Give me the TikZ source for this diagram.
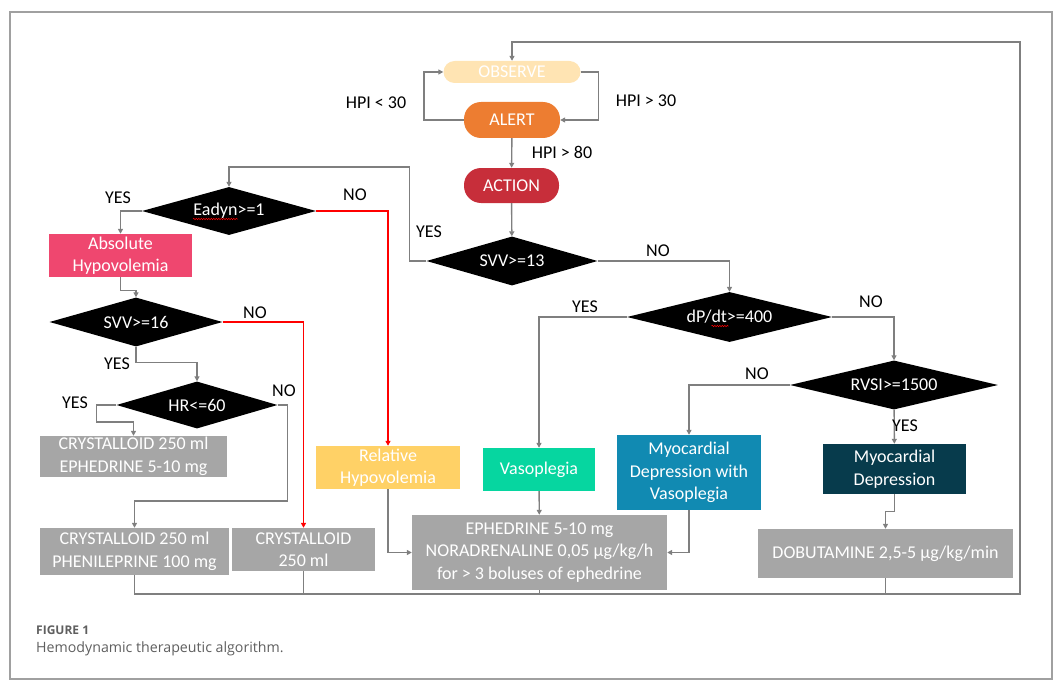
\documentclass[tikz,border=0pt]{standalone}
\usepackage{fontspec}
\setmainfont{Carlito}
\newfontfamily\capfont{Open Sans}
\usetikzlibrary{shapes.geometric,arrows.meta,decorations.pathmorphing}

\definecolor{linegray}{HTML}{7F7F7F}
\definecolor{framegray}{HTML}{A0A0A0}
\definecolor{boxgray}{HTML}{A6A6A6}
\definecolor{capgray}{HTML}{5F5F5F}
\definecolor{observefill}{HTML}{FFE4B3}
\definecolor{alertfill}{HTML}{ED7D31}
\definecolor{actionfill}{HTML}{C72E3A}
\definecolor{absfill}{HTML}{EF476F}
\definecolor{relfill}{HTML}{FFD166}
\definecolor{vasofill}{HTML}{06D6A0}
\definecolor{mdvfill}{HTML}{118AB2}
\definecolor{mdfill}{HTML}{073B4C}

\tikzset{
  state/.style={rectangle, fill=#1, text=white, inner sep=0pt},
  box/.style={rectangle, fill=#1, text=white, align=center, inner sep=0pt},
  decision/.style={diamond, aspect=4, fill=black, text=white, inner sep=0pt},
  arr/.style={draw=linegray, line width=1.4pt, -{Triangle[length=5pt,width=5pt]}},
  link/.style={draw=linegray, line width=1.4pt},
  noarr/.style={draw=red, line width=1.5pt, -{Triangle[length=5pt,width=5pt]}},
  lbl/.style={text=black, inner sep=0pt},
  spell/.style={draw=red, line width=0.5pt, decorate, decoration={snake, amplitude=0.7pt, segment length=2.5pt}}
}

\begin{document}
\begin{tikzpicture}[x=1pt,y=-1pt,font=\fontsize{18}{22.5}\selectfont]
\useasboundingbox (0,0) rectangle (1057,698);
\draw[framegray, line width=1.2pt] (10,12) rectangle (1052,679);

% monitoring states
\node[state=observefill, minimum width=137pt, minimum height=22pt, rounded corners=11pt] (observe) at (512,72) {OBSERVE};
\node[state=alertfill, minimum width=96pt, minimum height=36pt, rounded corners=17pt] (alert) at (512,120) {ALERT};
\node[state=actionfill, minimum width=95pt, minimum height=35pt, rounded corners=17pt] (action) at (511.5,185.5) {ACTION};

% decisions
\node[decision, minimum width=174pt, minimum height=48pt] (eadyn) at (229,211) {Eadyn>=1};
\node[decision, minimum width=173pt, minimum height=49pt] (svvsixteen) at (136,322) {SVV>=16};
\node[decision, minimum width=161pt, minimum height=47pt] (hr) at (197,405) {HR<=60};
\node[decision, minimum width=171pt, minimum height=49pt] (svvthirteen) at (512,261) {SVV>=13};
\node[decision, minimum width=205pt, minimum height=50pt] (dpdt) at (729.5,317) {dP/dt>=400};
\node[decision, minimum width=208pt, minimum height=49pt] (rvsi) at (894,385) {RVSI>=1500};
\draw[spell] ([shift={(-36,8)}]eadyn.center) -- ++(45,0);
\draw[spell] ([shift={(-18,9)}]dpdt.center) -- ++(17,0);

% diagnoses
\node[box=absfill, minimum width=143pt, minimum height=43pt] (absolute) at (120.5,255.5) {Absolute\\Hypovolemia};
\node[box=relfill, minimum width=144pt, minimum height=43pt] (relative) at (388,467.5) {Relative\\Hypovolemia};
\node[box=vasofill, minimum width=112pt, minimum height=43pt] (vaso) at (539,469.5) {Vasoplegia};
\node[box=mdvfill, minimum width=144pt, minimum height=75pt] (mdvaso) at (689,472.5) {Myocardial\\Depression with\\Vasoplegia};
\node[box=mdfill, minimum width=143pt, minimum height=50pt] (mydep) at (894.5,469) {Myocardial\\Depression};

% treatments
\node[box=boxgray, minimum width=187pt, minimum height=41pt] (cryeph) at (133.5,456.5) {CRYSTALLOID 250 ml\\EPHEDRINE 5-10 mg};
\node[box=boxgray, minimum width=189pt, minimum height=47pt] (cryphen) at (134.5,551.5) {CRYSTALLOID 250 ml\\PHENILEPRINE 100 mg};
\node[box=boxgray, minimum width=143pt, minimum height=43pt] (cry) at (303.5,549.5) {CRYSTALLOID\\250 ml};
\node[box=boxgray, minimum width=255pt, minimum height=75pt] (ephnor) at (539.5,552.5) {EPHEDRINE 5-10 mg\\NORADRENALINE 0,05 µg/kg/h\\for > 3 boluses of ephedrine};
\node[box=boxgray, minimum width=255pt, minimum height=49pt] (dobu) at (885.5,553.5) {DOBUTAMINE 2,5-5 µg/kg/min};

% connectors
\draw[arr] (alert.west) -- ++(-40,0) |- (observe.west);
\draw[arr] (observe.east) -- ++(18,0) |- (alert.east);
\draw[arr] (alert) -- (action);
\draw[arr] (action) -- (svvthirteen);
\draw[arr] (svvthirteen.west) -- ++(-17,0) -- ++(0,-94) -| (eadyn.north);
\draw[arr] (eadyn.west) -| (absolute.north);
\draw[noarr] (eadyn.east) -| (relative.north);
\draw[arr] (absolute.south) -- ++(0,13) -| (svvsixteen.north);
\draw[noarr] (svvsixteen.east) -| (cry.north);
\draw[arr] (svvsixteen.south) -- ++(0,16) -| (hr.north);
\draw[arr] (hr.west) -- ++(-20,0) -- ++(0,17) -| (cryeph.north);
\draw[arr] (hr.east) -- ++(10,0) -- ++(0,96) -| (cryphen.north);
\draw[arr] (relative.south) |- (ephnor.west);
\draw[arr] (svvthirteen.east) -| (dpdt.north);
\draw[arr] (dpdt.west) -| (vaso.north);
\draw[arr] (vaso) -- (ephnor);
\draw[arr] (dpdt.east) -| (rvsi.north);
\draw[arr] (rvsi.west) -| (mdvaso.north);
\draw[arr] (rvsi) -- (mydep);
\draw[arr] (mdvaso.south) |- (ephnor.east);
\draw[arr] (mydep.south) -- ++(0,17) -| (dobu.north);

% back to observe
\coordinate (back) at (1020,594);
\draw[arr] (cryphen.south) |- (back) -- ++(0,-552) -| (observe.north);
\draw[link] (cry.south) -- (cry.south |- back);
\draw[link] (ephnor.south) -- (ephnor.south |- back);
\draw[link] (dobu.south) -- (dobu.south |- back);

% labels
\node[lbl] (hpilow) at (376,103) {HPI < 30};
\node[lbl] (hpimid) at (646,101) {HPI > 30};
\node[lbl] (hpihigh) at (562,152) {HPI > 80};
\node[lbl] (eadynyes) at (118,198) {YES};
\node[lbl] (eadynno) at (355,195) {NO};
\node[lbl] (svvthirteenyes) at (429,232) {YES};
\node[lbl] (svvthirteenno) at (658,251) {NO};
\node[lbl] (svvsixteenno) at (255,313) {NO};
\node[lbl] (svvsixteenyes) at (117,364) {YES};
\node[lbl] (hryes) at (75,403) {YES};
\node[lbl] (hrno) at (284,391) {NO};
\node[lbl] (dpdtyes) at (585,307) {YES};
\node[lbl] (dpdtno) at (871,302) {NO};
\node[lbl] (rvsino) at (757,374) {NO};
\node[lbl] (rvsiyes) at (905,426) {YES};

% caption
\node[anchor=west, text=capgray, inner sep=0pt, font=\capfont\bfseries\fontsize{12}{14}\selectfont] (fignum) at (36,630) {FIGURE 1};
\node[anchor=west, text=capgray, inner sep=0pt, font=\capfont\fontsize{14.2}{16}\selectfont] (figcap) at (36,649) {Hemodynamic therapeutic algorithm.};
\end{tikzpicture}
\end{document}
